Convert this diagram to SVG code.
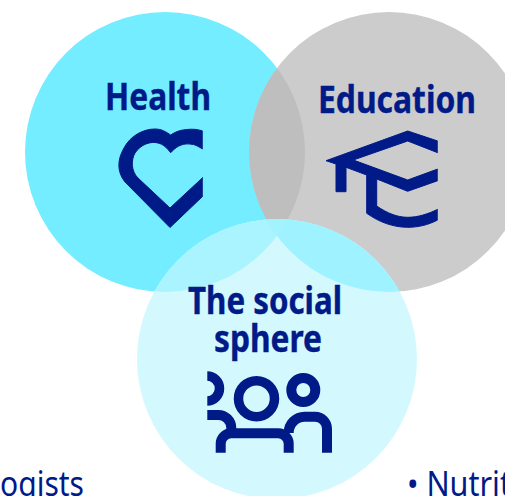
<svg xmlns="http://www.w3.org/2000/svg" width="505" height="496" viewBox="0 0 505 496">
<style>
text{font-family:"Noto Sans","Liberation Sans",sans-serif;fill:#001a88}
.t{font-weight:700;font-size:37px;stroke:#001a88;stroke-width:.4px}
.b{font-size:34px}
.ic{fill:#001a88;stroke:#001a88;stroke-width:1px}
.ln{fill:none;stroke:#001a88}
</style>
<defs>
<clipPath id="cl"><rect x="207.3" y="360" width="140" height="100"/></clipPath>
<clipPath id="ch"><circle cx="165" cy="152" r="140"/></clipPath>
<clipPath id="ce"><circle cx="389" cy="152" r="140"/></clipPath>
<clipPath id="cr"><rect x="100" y="120" width="102.700" height="120"/></clipPath>
<clipPath id="cc"><rect x="300" y="120" width="137.700" height="120"/></clipPath>
</defs>
<rect width="505" height="496" fill="#fff"/>
<g id="health">
<circle cx="165" cy="152" r="140" fill="#73edff"/>
</g>
<g id="education">
<circle cx="389" cy="152" r="140" fill="#cccccc"/>
<circle cx="389" cy="152" r="140" fill="#bebebe" clip-path="url(#ch)"/>
</g>
<g id="social">
<circle cx="277" cy="359" r="140" fill="#d3f9ff"/>
<circle cx="277" cy="359" r="140" fill="#a9f4ff" clip-path="url(#ch)"/>
<circle cx="277" cy="359" r="140" fill="#9ff2ff" clip-path="url(#ce)"/>
<g clip-path="url(#ch)"><circle cx="277" cy="359" r="140" fill="#a3f3ff" clip-path="url(#ce)"/></g>
</g>
<g id="health-label">
<text class="t" x="105" y="109.800" textLength="106" lengthAdjust="spacingAndGlyphs">Health</text>
<g clip-path="url(#cr)"><path class="ic" d="M170,227.500L203,196V177.300L170,208L138,178C131,171 131,160 135,153C141,144 151,141 158,143C163,144 167,148 170.700,152.700C175,148 181,143 190,144C195,144 199,147 202.700,149V131C197,129 192,129 186.700,129.500C180,130 175,132 170.700,135C166,132 162,129 155,129C143,129 130,136 124,148C117,160 117,172 125,182Z"/></g>
</g>
<g id="education-label">
<text class="t" x="318" y="113" textLength="158" lengthAdjust="spacingAndGlyphs">Education</text>
<g clip-path="url(#cc)"><path class="ic" d="M407.700,131L437.700,141V152.700L407.700,141L353.300,160L407.700,180L437.700,169V180.700L407.700,191.300L376.700,179V206C387,213 397,217.300 407.700,217.300C418,217.300 428,214 437.700,209.300V220C428,225 418,227.300 407.700,227.300C393,227.300 379,222 366.700,213.300V175L346,167.300V191.700H336V164L326,160.700Z"/></g>
</g>
<g id="social-label">
<text class="t" x="188" y="314" textLength="154" lengthAdjust="spacingAndGlyphs">The social</text>
<text class="t" x="214" y="352" textLength="108" lengthAdjust="spacingAndGlyphs">sphere</text>
<circle class="ln" cx="207" cy="388.500" r="12.500" stroke-width="9.500" clip-path="url(#cl)"/>
<circle class="ln" cx="256.500" cy="398.700" r="18" stroke-width="9.500"/>
<circle class="ln" cx="303.300" cy="390" r="12" stroke-width="10"/>
<path class="ln" stroke-width="10" d="M220.700,452.700V444A10.500,10.500 0 0 1 231,433.300H278A10.500,10.500 0 0 1 288.700,444V452.700"/>
<path class="ln" stroke-width="10" d="M207.300,415H218A13,13 0 0 1 231.300,428V433"/>
<path class="ln" stroke-width="10" d="M288.700,433A16,16 0 0 1 305,416.700H315A12,12 0 0 1 327,428.700V452.700"/>
</g>
<g id="list-left"><text class="b" x="0" y="496" textLength="84" lengthAdjust="spacingAndGlyphs">ogists</text></g>
<g id="list-right"><text class="b" x="407" y="496" textLength="104" lengthAdjust="spacingAndGlyphs">• Nutrit</text></g>
</svg>
